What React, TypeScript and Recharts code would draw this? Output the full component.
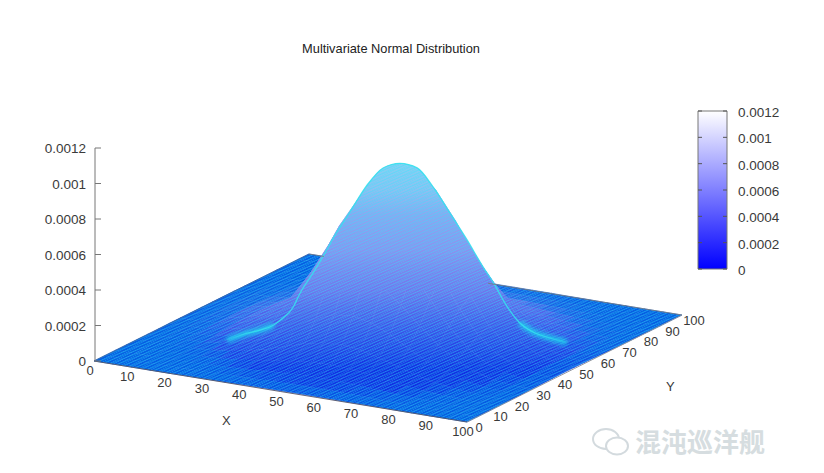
import { Area, Bar, BarChart, ComposedChart, LabelList, Line, LineChart, XAxis, YAxis } from "recharts";

const title = "Multivariate Normal Distribution";
const gridX = [0, 5, 10, 15, 20, 25, 30, 35, 40, 45, 50, 55, 60, 65, 70, 75, 80, 85, 90, 95, 100];
const gridY = gridX;
const xTicks = [0, 10, 20, 30, 40, 50, 60, 70, 80, 90, 100];
const yTicks = [0, 10, 20, 30, 40, 50, 60, 70, 80, 90, 100];
const zTicks = [0, 0.0002, 0.0004, 0.0006, 0.0008, 0.001, 0.0012];

// surface height in millionths, one row per Y (0 to 100), one column per X (0 to 100)
const heights = [
  [0, 0, 0, 0, 0, 1, 1, 2, 3, 4, 4, 4, 4, 3, 2, 2, 1, 0, 0, 0, 0],
  [0, 0, 0, 0, 1, 2, 3, 5, 8, 10, 12, 13, 12, 10, 7, 4, 3, 1, 1, 0, 0],
  [0, 0, 0, 1, 2, 4, 8, 14, 21, 27, 32, 33, 31, 25, 18, 12, 7, 3, 2, 1, 0],
  [0, 0, 1, 2, 5, 10, 20, 33, 48, 64, 74, 77, 71, 58, 42, 27, 15, 8, 4, 1, 1],
  [0, 1, 2, 4, 10, 22, 41, 68, 100, 132, 154, 160, 147, 120, 87, 56, 32, 16, 7, 3, 1],
  [0, 1, 3, 8, 19, 40, 74, 124, 184, 242, 282, 292, 269, 220, 159, 103, 59, 30, 13, 5, 2],
  [0, 2, 5, 13, 31, 64, 121, 202, 299, 394, 459, 476, 438, 358, 259, 167, 95, 49, 22, 9, 3],
  [1, 2, 7, 19, 44, 93, 175, 292, 432, 568, 664, 688, 632, 517, 375, 241, 138, 70, 32, 12, 4],
  [1, 3, 9, 24, 57, 119, 225, 375, 555, 730, 852, 883, 812, 664, 481, 310, 177, 90, 41, 16, 6],
  [1, 3, 10, 27, 65, 136, 256, 427, 632, 800, 950, 990, 925, 756, 548, 353, 202, 103, 46, 18, 7],
  [1, 3, 10, 28, 65, 138, 259, 432, 640, 835, 965, 985, 930, 765, 555, 357, 204, 104, 47, 18, 7],
  [1, 3, 9, 25, 59, 124, 233, 389, 575, 757, 883, 900, 835, 688, 499, 321, 183, 94, 42, 17, 6],
  [1, 2, 7, 20, 47, 99, 186, 310, 458, 603, 704, 730, 660, 548, 398, 256, 146, 75, 34, 13, 5],
  [1, 2, 5, 14, 33, 70, 132, 220, 325, 427, 499, 517, 476, 389, 282, 181, 104, 53, 24, 9, 3],
  [0, 1, 3, 9, 21, 44, 83, 138, 204, 268, 313, 324, 298, 244, 177, 114, 65, 33, 15, 6, 2],
  [0, 1, 2, 5, 12, 25, 46, 77, 114, 150, 175, 182, 167, 137, 99, 64, 36, 19, 8, 3, 1],
  [0, 0, 1, 2, 6, 12, 23, 38, 56, 74, 87, 90, 83, 68, 49, 32, 18, 9, 4, 2, 1],
  [0, 0, 0, 1, 3, 5, 10, 17, 25, 33, 39, 40, 37, 30, 22, 14, 8, 4, 2, 1, 0],
  [0, 0, 0, 0, 1, 2, 4, 7, 10, 13, 15, 16, 15, 12, 9, 6, 3, 2, 1, 0, 0],
  [0, 0, 0, 0, 0, 1, 1, 2, 3, 4, 5, 5, 5, 4, 3, 2, 1, 1, 0, 0, 0],
  [0, 0, 0, 0, 0, 0, 1, 1, 1, 2, 2, 2, 2, 2, 1, 1, 0, 0, 0, 0, 0],
];

// silhouette of the hump, read as distance across the line of sight and height there (millionths)
const rimAcross = [-39.8, -35.2, -32.2, -29.1, -27.5, -24.5, -22.9, -19.9, -17.1, -15.2, -11.3, -7.3, -3.6, 0.3, 4.3, 8, 11.9, 15.9, 19.6, 21.9, 25.1, 28.1, 31.1, 35.1, 39.1];
const rimHeight = [15, 54, 71, 99, 127, 200, 279, 392, 505, 589, 736, 888, 984, 1010, 984, 877, 730, 578, 426, 341, 206, 111, 60, 25, 0];

// surface colour down the picture, and the flat floor colour
const floorColor = "#065ee2";
const rampOffsets = [0, 0.1, 0.2, 0.34, 0.5, 0.65, 0.8, 0.92, 1];
const rampColors = ["#84d2f3", "#8cc2f2", "#8aa8f0", "#8a92ef", "#7074ec", "#3c52e8", "#1230e2", "#1030e2", "#123fe2"];
const rampTop = 163;
const rampBottom = 420;

// gnuplot-like oblique view
const W = 824;
const H = 473;
const project = (x: number, y: number, z: number) => ({
  sx: 94 + 3.73 * x + 2.15 * y,
  sy: 361 + 0.61 * x - 1.07 * y - 0.1775 * z,
});

const hex = (c: string) => [1, 3, 5].map((i) => parseInt(c.slice(i, i + 2), 16));
function rampAt(sy: number) {
  const o = Math.min(1, Math.max(0, (sy - rampTop) / (rampBottom - rampTop)));
  let k = 0;
  while (k < rampOffsets.length - 2 && o > rampOffsets[k + 1]) k++;
  const t = (o - rampOffsets[k]) / (rampOffsets[k + 1] - rampOffsets[k]);
  const a = hex(rampColors[k]);
  const b = hex(rampColors[k + 1]);
  return a.map((v, i) => v + (b[i] - v) * t);
}
function lowCellColor(sy: number, alpha: number) {
  const a = hex(floorColor);
  const b = rampAt(sy);
  return `rgb(${a.map((v, i) => Math.round(v + (b[i] - v) * alpha)).join(",")})`;
}

type P = { sx: number; sy: number };
const spanAt = (edges: [P, P][], x: number) => {
  let lo = Infinity;
  let hi = -Infinity;
  for (const [a, b] of edges) {
    if (x < Math.min(a.sx, b.sx) || x > Math.max(a.sx, b.sx)) continue;
    const t = a.sx === b.sx ? 0 : (x - a.sx) / (b.sx - a.sx);
    const y = a.sy + (b.sy - a.sy) * t;
    lo = Math.min(lo, y);
    hi = Math.max(hi, y);
  }
  return [lo, hi];
};

// back to front, so the hump covers what lies behind it
const cells: { key: string; fill: string; rows: { sx: number; band: number[] }[] }[] = [];
const allEdges: [P, P][] = [];
for (let j = gridY.length - 2; j >= 0; j--) {
  for (let i = 0; i < gridX.length - 1; i++) {
    const zs = [heights[j][i], heights[j][i + 1], heights[j + 1][i + 1], heights[j + 1][i]];
    const c = [
      project(gridX[i], gridY[j], zs[0]),
      project(gridX[i + 1], gridY[j], zs[1]),
      project(gridX[i + 1], gridY[j + 1], zs[2]),
      project(gridX[i], gridY[j + 1], zs[3]),
    ];
    const edges: [P, P][] = c.map((p, n) => [p, c[(n + 1) % 4]]);
    allEdges.push(...edges);
    const xs = Array.from(new Set(c.map((p) => p.sx))).sort((a, b) => a - b);
    const avg = (zs[0] + zs[1] + zs[2] + zs[3]) / 4;
    const midY = (c[0].sy + c[1].sy + c[2].sy + c[3].sy) / 4;
    cells.push({
      key: `c${j}-${i}`,
      fill: avg >= 25 ? "url(#slope)" : lowCellColor(midY, avg / 25),
      rows: xs.map((sx) => ({ sx, band: spanAt(edges, sx) })),
    });
  }
}

const footprint: { sx: number; band: number[] }[] = [];
for (let x = 94; x <= 682; x += 3) footprint.push({ sx: x, band: spanAt(allEdges, x) });

// rim points sit on the line across the hump through its centre
const rimPoints = rimAcross.map((s, i) => project(54 + 0.866 * s, 48 + 0.5 * s, rimHeight[i]));
const glintLeft = rimPoints.slice(0, 4);
const glintRight = rimPoints.slice(21);
const cap = rimPoints.slice(5, 22).map((p) => ({ sx: p.sx, band: [p.sy, p.sy + 40] }));

const axisX = xTicks.map((t) => ({ ...project(t, 0, 0), label: String(t) }));
const axisY = yTicks.map((t) => ({ ...project(100, t, 0), label: String(t) }));
const backLeft = [project(0, 0, 0), project(0, 100, 0)];
const backRightA = [project(0, 100, 0), project(4, 100, 0)];
const backRightB = [project(48, 100, 0), project(100, 100, 0)];

const font = "'Liberation Sans', Arial, sans-serif";
const textColor = "#3a3a3a";
const base = { isAnimationActive: false, legendType: "none" as const, tooltipType: "none" as const };

const tickLabel = (dx: number, dy: number) => (p: any) => (
  <text x={p.x + dx} y={p.y + dy} textAnchor="middle" fontFamily={font} fontSize={13} fill={textColor}>
    {p.value}
  </text>
);

function ZTick(p: any) {
  return (
    <g>
      <line x1={95} x2={101} y1={p.y} y2={p.y} stroke="#777" />
      <text x={86} y={p.y + 5} textAnchor="end" fontFamily={font} fontSize={13.5} fill={textColor}>{p.payload.value}</text>
    </g>
  );
}

function BarTick(p: any) {
  return (
    <g>
      <line x1={8} x2={12} y1={p.y} y2={p.y} stroke="#555" />
      <line x1={33} x2={37} y1={p.y} y2={p.y} stroke="#555" />
      <text x={48} y={p.y + 6} fontFamily={font} fontSize={13.5} fill={textColor}>{p.payload.value}</text>
    </g>
  );
}

const overlayText = (x: number, y: number, size: number): React.CSSProperties => ({
  position: "absolute", left: x, top: y, fontFamily: font, fontSize: size, color: textColor, lineHeight: 1, whiteSpace: "nowrap",
});

export default function App() {
  return (
    <div style={{ position: "absolute", left: 0, top: 0, width: W, height: H, background: "#fff", overflow: "hidden" }}>
      <ComposedChart width={W} height={H} margin={{ top: 0, right: 0, bottom: 0, left: 0 }}>
        <defs>
          <pattern id="mesh" width={1} height={1} patternUnits="userSpaceOnUse" patternTransform="matrix(3.73 0.61 2.15 -1.07 94 361)">
            <path d="M0 0H1M0 0V1" stroke="#2fe6ff" strokeWidth={0.28} strokeOpacity={0.6} fill="none" />
          </pattern>
          <linearGradient id="slope" gradientUnits="userSpaceOnUse" x1={0} y1={rampTop} x2={0} y2={rampBottom}>
            {rampOffsets.map((o, i) => <stop key={o} offset={o} stopColor={rampColors[i]} />)}
          </linearGradient>
          <linearGradient id="rimFade" gradientUnits="userSpaceOnUse" x1={212} y1={0} x2={578} y2={0}>
            <stop offset={0} stopColor="#35e0ee" stopOpacity={0} />
            <stop offset={0.12} stopColor="#35e0ee" stopOpacity={0.9} />
            <stop offset={0.88} stopColor="#35e0ee" stopOpacity={0.9} />
            <stop offset={1} stopColor="#35e0ee" stopOpacity={0} />
          </linearGradient>
        </defs>
        <XAxis dataKey="sx" type="number" domain={[0, W]} hide />
        <YAxis type="number" domain={[0, H]} reversed hide />
        {cells.map((c) => (
          <Area key={c.key} {...base} data={c.rows} dataKey="band" fill={c.fill} fillOpacity={1} stroke={c.fill} strokeWidth={0.6} dot={false} activeDot={false} />
        ))}
        <Area {...base} data={footprint} dataKey="band" fill="url(#mesh)" fillOpacity={1} stroke="none" dot={false} activeDot={false} />
        <Area {...base} data={cap} dataKey="band" type="monotone" fill="url(#slope)" fillOpacity={1} stroke="none" dot={false} activeDot={false} />
        <Area {...base} data={cap} dataKey="band" type="monotone" fill="url(#mesh)" fillOpacity={1} stroke="none" dot={false} activeDot={false} />
        <Line {...base} data={glintLeft} dataKey="sy" type="monotone" stroke="#19e6ee" strokeWidth={6} strokeOpacity={0.7} style={{ filter: "blur(2px)" }} dot={false} activeDot={false} />
        <Line {...base} data={glintRight} dataKey="sy" type="monotone" stroke="#19e6ee" strokeWidth={6} strokeOpacity={0.7} style={{ filter: "blur(2px)" }} dot={false} activeDot={false} />
        <Line {...base} data={rimPoints} dataKey="sy" type="monotone" stroke="url(#rimFade)" strokeWidth={1.3} dot={false} activeDot={false} />
        <Line {...base} data={backLeft} dataKey="sy" stroke="#3b5f9a" strokeWidth={0.8} dot={false} activeDot={false} />
        <Line {...base} data={backRightA} dataKey="sy" stroke="#777" strokeWidth={0.8} dot={false} activeDot={false} />
        <Line {...base} data={backRightB} dataKey="sy" stroke="#777" strokeWidth={0.8} dot={false} activeDot={false} />
        <Line {...base} data={axisX} dataKey="sy" stroke="#556" strokeWidth={0.9} dot={false} activeDot={false}>
          <LabelList dataKey="label" content={tickLabel(-4, 14)} />
        </Line>
        <Line {...base} data={axisY} dataKey="sy" stroke="#8a9099" strokeWidth={0.9} dot={false} activeDot={false}>
          <LabelList dataKey="label" content={tickLabel(12, 10)} />
        </Line>
      </ComposedChart>

      <div style={{ position: "absolute", left: 0, top: 138 }}>
        <LineChart width={130} height={233} data={zTicks.map((v) => ({ v }))} margin={{ top: 10, right: 30, bottom: 10, left: 0 }}>
          <YAxis width={95} type="number" domain={[0, 0.0012]} ticks={zTicks} interval={0} axisLine={{ stroke: "#777" }} tickLine={false} tick={ZTick} />
          <Line {...base} dataKey="v" stroke="none" dot={false} activeDot={false} />
        </LineChart>
      </div>

      <div style={{ position: "absolute", left: 690, top: 100 }}>
        <BarChart width={130} height={180} data={[{ v: 0.0012 }]} barCategoryGap={0} margin={{ top: 11, right: 0, bottom: 11, left: 8 }}>
          <defs>
            <linearGradient id="palette" x1="0" y1="1" x2="0" y2="0">
              <stop offset="0" stopColor="#0000ff" />
              <stop offset="1" stopColor="#ffffff" />
            </linearGradient>
          </defs>
          <XAxis hide />
          <YAxis orientation="right" width={93} type="number" domain={[0, 0.0012]} ticks={zTicks} interval={0} axisLine={false} tickLine={false} tick={BarTick} />
          <Bar {...base} dataKey="v" fill="url(#palette)" stroke="#777" />
        </BarChart>
      </div>

      <div style={{ ...overlayText(391, 43, 12.8), color: "#222", transform: "translateX(-50%)" }}>{title}</div>
      <div style={overlayText(222, 414, 13)}>X</div>
      <div style={overlayText(666, 380, 13)}>Y</div>
      <div style={{ position: "absolute", left: 635, top: 428, fontFamily: "'Noto Sans CJK SC'", fontSize: 26, fontWeight: 700, lineHeight: 1, color: "#d6dde0", whiteSpace: "nowrap" }}>混沌巡洋舰</div>
      <svg style={{ position: "absolute", left: 590, top: 426 }} width={42} height={32}>
        <ellipse cx={16} cy={13} rx={13} ry={10} fill="none" stroke="#d3dade" strokeWidth={2} />
        <ellipse cx={27} cy={20} rx={11} ry={8.5} fill="#fff" stroke="#d3dade" strokeWidth={2} />
      </svg>
    </div>
  );
}
